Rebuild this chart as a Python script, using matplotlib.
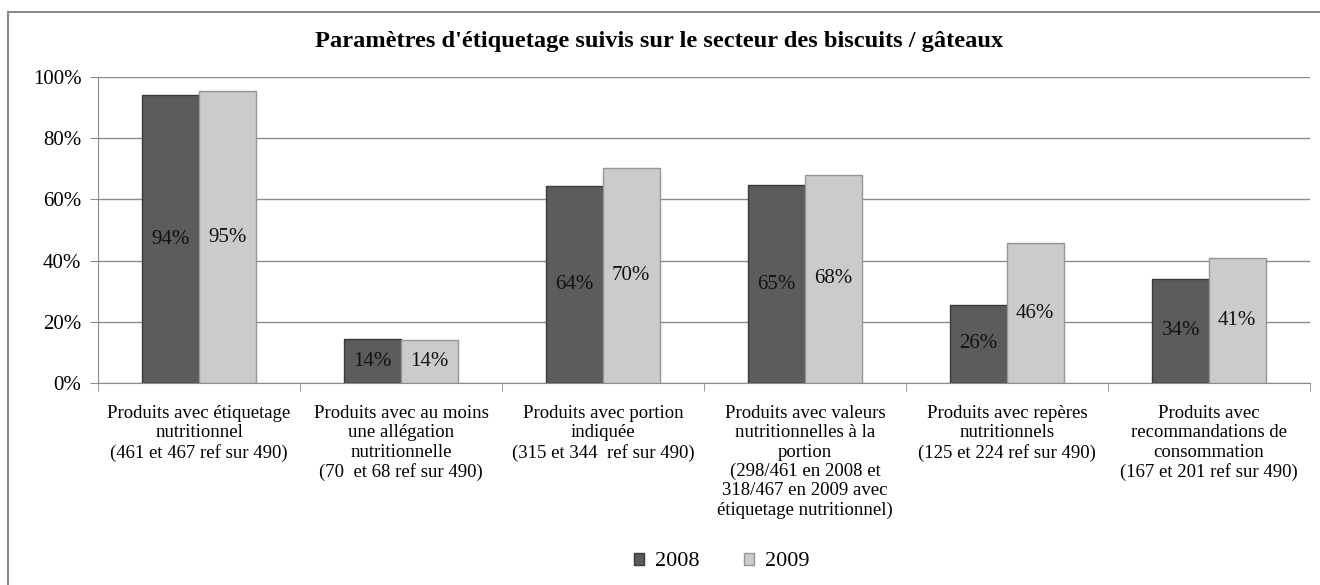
import numpy as np
import matplotlib
matplotlib.use('Agg')
import matplotlib.pyplot as plt
from matplotlib.patches import Rectangle

plt.rcParams['font.family'] = ['Liberation Serif', 'DejaVu Serif']

title = "Paramètres d'étiquetage suivis sur le secteur des biscuits / gâteaux"
categories = [
    'Produits avec étiquetage\nnutritionnel\n(461 et 467 ref sur 490)',
    'Produits avec au moins\nune allégation\nnutritionnelle\n(70  et 68 ref sur 490)',
    'Produits avec portion\nindiquée\n(315 et 344  ref sur 490)',
    'Produits avec valeurs\nnutritionnelles à la\nportion\n(298/461 en 2008 et\n318/467 en 2009 avec\nétiquetage nutritionnel)',
    'Produits avec repères\nnutritionnels\n(125 et 224 ref sur 490)',
    'Produits avec\nrecommandations de\nconsommation\n(167 et 201 ref sur 490)',
]
years = ['2008', '2009']
values_2008 = [94.1, 14.3, 64.3, 64.6, 25.5, 34.1]
values_2009 = [95.3, 13.9, 70.2, 68.1, 45.7, 41.0]
yticks = [0, 20, 40, 60, 80, 100]

fontsize = 15
fig = plt.figure(figsize=(13.2, 5.85), dpi=100)
ax = fig.add_axes([98 / 1320, 1 - 383 / 585, (1310 - 98) / 1320, (383 - 77) / 585])

x = np.arange(len(categories))
width = 0.28
b1 = ax.bar(x - width / 2, values_2008, width, color='#5c5c5c', edgecolor='#3a3a3a',
            linewidth=1, label=years[0], zorder=3)
b2 = ax.bar(x + width / 2, values_2009, width, color='#cbcbcb', edgecolor='#969696',
            linewidth=1, label=years[1], zorder=3)

for bars, vals in [(b1, values_2008), (b2, values_2009)]:
    for rect, v in zip(bars, vals):
        ax.text(rect.get_x() + rect.get_width() / 2, v / 2, f'{round(v)}%',
                ha='center', va='center', fontsize=fontsize, color='#111111', zorder=4)

ax.set_xlim(-0.5, len(categories) - 0.5)
ax.set_ylim(0, 100)
ax.set_yticks(yticks)
ax.set_yticklabels([f'{t}%' for t in yticks], fontsize=fontsize)
ax.yaxis.grid(True, color='#8c8c8c', linewidth=1, zorder=0)
ax.set_axisbelow(True)

ax.set_xticks(x)
ax.set_xticklabels(categories, fontsize=13.5, linespacing=1.17, va='top')
ax.set_xticks(np.arange(len(categories) + 1) - 0.5, minor=True)
ax.tick_params(axis='x', which='major', length=0, pad=16)
ax.tick_params(axis='x', which='minor', length=6, color='#8c8c8c')
ax.tick_params(axis='y', length=6, color='#8c8c8c', pad=6)

for s in ['top', 'right']:
    ax.spines[s].set_visible(False)
for s in ['left', 'bottom']:
    ax.spines[s].set_color('#8c8c8c')

fig.text(659 / 1320, 1 - 42 / 585, title, ha='center', va='center',
         fontsize=17.6, fontweight='bold')

fig.legend(handles=[b1, b2], labels=years, loc='center', bbox_to_anchor=(722 / 1320, 1 - 562 / 585),
           ncol=2, frameon=False, fontsize=16, handlelength=0.45, handleheight=0.45,
           columnspacing=2.0, handletextpad=0.5)

fig.patches.append(Rectangle((8 / 1320, -0.05), 1.1, 1 - 12 / 585 + 0.05, transform=fig.transFigure,
                             fill=False, edgecolor='#8a8a8a', linewidth=1.5))

plt.savefig('out.png', dpi=100)
